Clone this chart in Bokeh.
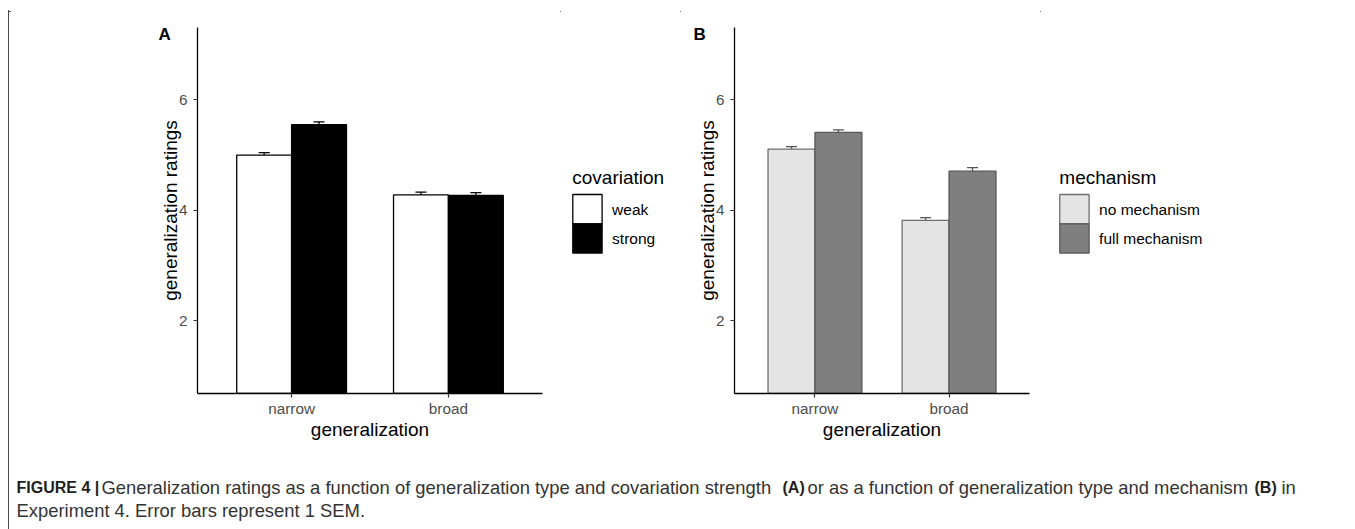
from bokeh.plotting import figure
from bokeh.models import (Range1d, FixedTicker, Whisker, Label, Div,
                          TeeHead, ColumnDataSource)
from bokeh.layouts import column, row
from bokeh.embed import file_html
from bokeh.resources import INLINE

# ---------------- data ----------------
generalization = ["narrow", "broad"]

covariation = ["weak", "strong"]
cov_weak_mean = [5.00, 4.28]
cov_strong_mean = [5.55, 4.27]
cov_weak_sem = [0.045, 0.05]
cov_strong_sem = [0.05, 0.05]

mechanism = ["no mechanism", "full mechanism"]
mech_none_mean = [5.11, 3.82]
mech_full_mean = [5.41, 4.71]
mech_none_sem = [0.045, 0.05]
mech_full_sem = [0.048, 0.065]

y_ticks = [2, 4, 6]

caption_line1 = [
    ("FIGURE 4 |", True),
    ("Generalization ratings as a function of generalization type and covariation strength", False),
    ("(A)", True),
    ("or as a function of generalization type and mechanism", False),
    ("(B)", True),
    ("in", False),
]
caption_line1_x = [16, 101, 782, 807, 1254, 1281]
caption_line2 = "Experiment 4. Error bars represent 1 SEM."

# ---------------- layout / style ----------------
FONT = "Liberation Sans"
X_RANGE = (0.4, 2.6)
Y_RANGE = (0.685, 7.31)
BAR_W = 0.35
W_TOTAL, H_TOTAL = 1355, 529
STRIP = 10            # top / left strips holding the outer frame line
H_MID = 450
TOP = 17
BOTTOM = 67
BORDER_COLOR = "#4a4a4a"

# legend geometry (local pixels of the legend figure, y down)
KEY = 29.3
KEY_TOP = 184
TITLE_Y = 167
LABEL_GAP = 10


def make_panel(width, left, frame_w, letter, letter_dx, names, means, sems,
               fills, lines, err_color):
    right = width - left - frame_w
    p = figure(width=width, height=H_MID, title=letter,
               x_range=Range1d(*X_RANGE), y_range=Range1d(*Y_RANGE),
               output_backend="svg", toolbar_location=None,
               min_border_left=left, min_border_right=right,
               min_border_top=TOP, min_border_bottom=BOTTOM,
               background_fill_color="white", border_fill_color="white",
               outline_line_color=None)
    p.grid.visible = False

    pos = [i + 1 for i in range(len(generalization))]
    n = len(names)
    for k in range(n):
        off = (k - (n - 1) / 2) * BAR_W
        xs = [q + off for q in pos]
        src = ColumnDataSource(dict(
            x=xs, top=means[k],
            upper=[m + s for m, s in zip(means[k], sems[k])],
            lower=[m - s for m, s in zip(means[k], sems[k])],
        ))
        p.vbar(x="x", top="top", bottom=0, width=BAR_W, source=src,
               fill_color=fills[k], line_color=lines[k], line_width=1.3)
        p.add_layout(Whisker(source=src, base="x", upper="upper", lower="lower",
                             line_color=err_color, line_width=1.3,
                             upper_head=TeeHead(size=11, line_color=err_color, line_width=1.3),
                             lower_head=TeeHead(size=11, line_color=err_color, line_width=1.3)))

    # axes
    xa = p.xaxis[0]
    xa.ticker = FixedTicker(ticks=pos)
    xa.major_label_overrides = {q: g for q, g in zip(pos, generalization)}
    xa.axis_label = "generalization"
    ya = p.yaxis[0]
    ya.ticker = FixedTicker(ticks=y_ticks)
    ya.axis_label = "generalization ratings"
    for ax in (xa, ya):
        ax.axis_line_color = "black"
        ax.axis_line_width = 1.3
        ax.major_tick_line_color = "#333333"
        ax.major_tick_line_width = 1.2
        ax.major_tick_in = 0
        ax.major_tick_out = 4
        ax.minor_tick_line_color = None
        ax.major_label_text_font = FONT
        ax.major_label_text_font_size = "15.3px"
        ax.major_label_text_color = "#4d4d4d"
        ax.axis_label_text_font = FONT
        ax.axis_label_text_font_size = "19px"
        ax.axis_label_text_font_style = "normal"
        ax.axis_label_text_color = "black"
    xa.major_label_standoff = 2
    xa.axis_label_standoff = -1
    ya.major_label_standoff = 6
    ya.axis_label_standoff = -5

    # panel letter (title)
    t = p.title
    t.align = "left"
    t.offset = letter_dx
    t.vertical_align = "bottom"
    t.standoff = -33
    t.text_font = FONT
    t.text_font_size = "17px"
    t.text_font_style = "bold"
    t.text_color = "black"
    return p


def make_legend_fig(width, title, names, fills, lines, key_left):
    # same frame rows as the panels; coordinates are local pixels (y down)
    f = figure(width=width, height=H_MID, x_range=Range1d(0, width),
               y_range=Range1d(H_MID - BOTTOM, TOP),
               min_border_left=0, min_border_right=0,
               min_border_top=TOP, min_border_bottom=BOTTOM,
               output_backend="svg", toolbar_location=None, title=None,
               x_axis_type=None, y_axis_type=None, outline_line_color=None,
               background_fill_color="white", border_fill_color="white")
    f.grid.visible = False
    n = len(names)
    tops = [KEY_TOP + k * KEY for k in range(n)]
    f.quad(left=[key_left] * n, right=[key_left + KEY] * n,
           top=tops, bottom=[t + KEY for t in tops],
           fill_color=fills, line_color=lines, line_width=1.3)
    f.add_layout(Label(x=key_left - 0.5, y=TITLE_Y, text=title, text_font=FONT,
                       text_font_size="19px", text_color="black",
                       text_baseline="middle", text_align="left"))
    for k in range(n):
        f.add_layout(Label(x=key_left + KEY + LABEL_GAP, y=tops[k] + KEY / 2, text=names[k],
                           text_font=FONT, text_font_size="15.5px", text_color="black",
                           text_baseline="middle", text_align="left"))
    return f


A_FILLS, A_LINES = ["white", "black"], ["black", "black"]
B_FILLS, B_LINES = ["#e4e4e4", "#7f7f7f"], ["#6e6e6e", "#575757"]

pA = make_panel(550, 187, 345, "A", -39, covariation,
                [cov_weak_mean, cov_strong_mean], [cov_weak_sem, cov_strong_sem],
                A_FILLS, A_LINES, "black")
legA = make_legend_fig(120, "covariation", covariation, A_FILLS, A_LINES, 12.3)
pB = make_panel(360, 54, 295, "B", -41, mechanism,
                [mech_none_mean, mech_full_mean], [mech_none_sem, mech_full_sem],
                B_FILLS, B_LINES, "#555555")
legB = make_legend_fig(315, "mechanism", mechanism, B_FILLS, B_LINES, 19.3)

# outer frame line (top and left edges) as plain HTML strips
W_IN = W_TOTAL - STRIP
H_IN = H_TOTAL - STRIP
Z = "font-size:0;line-height:0;margin:0;padding:0;"
# full-width strip on top: 9px spacer, then the 1px top edge starting at x=8
top_div = Div(width=W_TOTAL, height=STRIP, margin=0, text=(
    f'<div style="{Z}height:9px;width:{W_TOTAL}px"></div>'
    f'<div style="{Z}margin-left:8px;width:{W_TOTAL - 8}px;height:1px;'
    f'border-top:1px solid {BORDER_COLOR};box-sizing:border-box"></div>'))
# narrow strip on the left: the 1px left edge at x=8
left_div = Div(width=STRIP, height=H_IN, margin=0, text=(
    f'<div style="{Z}margin-left:8px;width:2px;height:{H_IN}px;box-sizing:border-box;'
    f'border-left:1px solid {BORDER_COLOR}"></div>'))

# caption
H_CAP = H_TOTAL - STRIP - H_MID
Y0 = STRIP + H_MID
pc = figure(width=W_IN, height=H_CAP, x_range=Range1d(STRIP, W_TOTAL), y_range=Range1d(H_TOTAL, Y0),
            min_border=0, output_backend="svg", toolbar_location=None, title=None,
            x_axis_type=None, y_axis_type=None, outline_line_color=None,
            background_fill_color="white", border_fill_color="white")
pc.grid.visible = False
for (txt, bold), x in zip(caption_line1, caption_line1_x):
    pc.add_layout(Label(x=x, y=487, text=txt, text_font=FONT,
                        text_font_size="16px" if bold else "18.4px",
                        text_font_style="bold" if bold else "normal",
                        text_color="#231f20" if bold else "#333333",
                        text_baseline="alphabetic", text_align="left"))
pc.add_layout(Label(x=16, y=510, text=caption_line2, text_font=FONT,
                    text_font_size="18.4px", text_color="#333333",
                    text_baseline="alphabetic", text_align="left"))

layout = column(top_div, row(left_div, column(row(pA, legA, pB, legB), pc)))
open("out.html", "w").write(file_html(layout, INLINE))
